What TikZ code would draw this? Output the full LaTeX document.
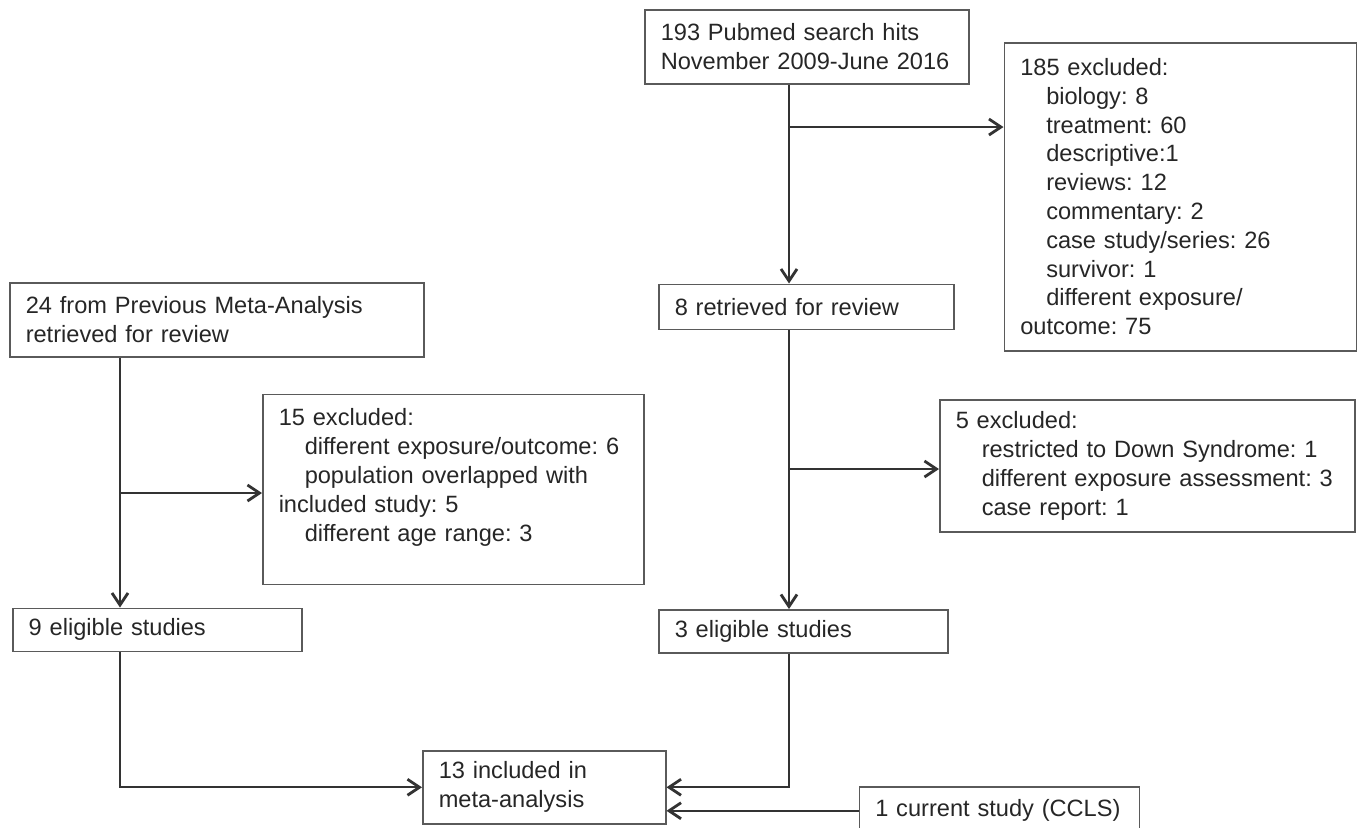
\documentclass[tikz,border=0pt]{standalone}
\usepackage{xcolor}
\usepackage{fontspec}
\setmainfont{Liberation Sans}
\usepackage{tikz}
\usetikzlibrary{positioning}
\usetikzlibrary{arrows.meta}

\definecolor{boxline}{HTML}{5A5A5A}
\definecolor{flowline}{HTML}{333333}
\definecolor{boxtext}{HTML}{262626}
\newcommand{\idt}{\hspace*{13pt}}
\frenchspacing

\begin{document}
\begin{tikzpicture}[
	box/.style={draw=boxline, line width=0.75pt, anchor=north west, align=left,
		inner xsep=8pt, inner ysep=3pt, text=boxtext,
		font=\fontsize{11.8pt}{14.4pt}\selectfont},
	flow/.style={draw=flowline, line width=1pt},
	>={Straight Barb[length=6pt,width=8pt,line width=1.4pt]}]
	\useasboundingbox (0,0) rectangle (680pt,-413.5pt);

	\node[box, text width=146pt, minimum height=37pt] (pm) at (322pt,-4.5pt) {193 Pubmed search hits\\\mbox{November 2009-June 2016}};
	\node[box, text width=160pt, minimum height=154pt] (pmex) [below right = 16.5pt and 17pt of pm.north east] {185 excluded:\\\idt biology: 8\\\idt treatment: 60\\\idt descriptive:1\\\idt reviews: 12\\\idt commentary: 2\\\idt case study/series: 26\\\idt survivor: 1\\\idt different exposure/\\outcome: 75};
	\node[box, text width=131.5pt, minimum height=22.5pt] (pmrev) [below right = 99.5pt and 7pt of pm.south west] {8 retrieved for review};
	\node[box, text width=191.5pt, minimum height=66pt] (pmrevex) [below right = 34.5pt and 140.5pt of pmrev.south west] {5 excluded:\\\idt\mbox{restricted to Down Syndrome: 1}\\\idt\mbox{different exposure assessment: 3}\\\idt case report: 1};
	\node[box, text width=128.5pt, minimum height=21.5pt] (pmel) [below right = 139.5pt and 0pt of pmrev.south west] {3 eligible studies};

	\node[box, text width=191pt, minimum height=37pt] (pv) at (4.5pt,-141pt) {\mbox{24 from Previous Meta-Analysis}\\retrieved for review};
	\node[box, text width=174.5pt, minimum height=95pt] (pvex) [below right = 18pt and 126.5pt of pv.south west] {15 excluded:\\\idt\mbox{different exposure/outcome: 6}\\\idt\mbox{population overlapped with}\\included study: 5\\\idt different age range: 3\\~};
	\node[box, text width=128.5pt, minimum height=21.5pt] (pvel) [below right = 125pt and 1.5pt of pv.south west] {9 eligible studies};

	\node[box, text width=105.5pt, minimum height=36.5pt] (meta) [below right = 49pt and 205pt of pvel.south west] {13 included in\\meta-analysis};
	\node[box, text width=124pt, minimum height=24pt] (ccls) [below right = 18pt and 96pt of meta.north east] {\mbox{1 current study (CCLS)}};

	\coordinate (rc) at (394.5pt,0);
	\coordinate (lc) at (60pt,0);
	\coordinate (b1) at (394.5pt,-63.5pt);
	\coordinate (b2) at (394.5pt,-234.5pt);
	\coordinate (b3) at (60pt,-246.5pt);

	\draw[flow,->] (pm.south -| rc) -- (pmrev.north -| rc);
	\draw[flow,->] (b1) -- (b1 -| pmex.west);
	\draw[flow,->] (pmrev.south -| rc) -- (pmel.north -| rc);
	\draw[flow,->] (b2) -- (b2 -| pmrevex.west);
	\draw[flow,->] (pv.south -| lc) -- (pvel.north -| lc);
	\draw[flow,->] (b3) -- (b3 -| pvex.west);
	\draw[flow,->] (pvel.south -| lc) |- (meta.west);
	\draw[flow,->] (pmel.south -| rc) |- (meta.east);
	\draw[flow,->] (ccls.west) -- (ccls.west -| meta.east);
\end{tikzpicture}
\end{document}
